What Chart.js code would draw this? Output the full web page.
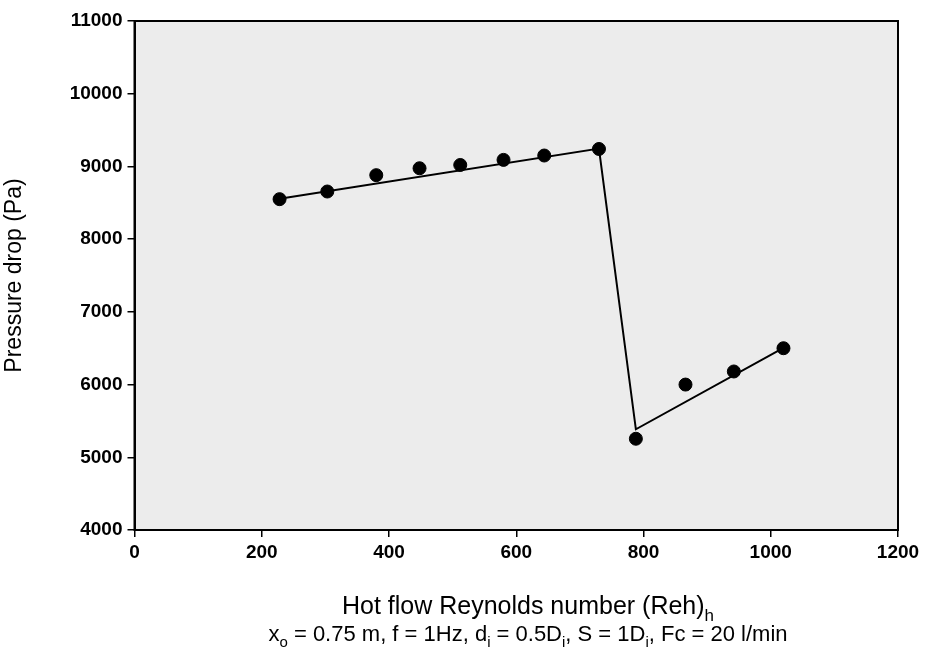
<!DOCTYPE html>
<html>
<head>
<meta charset="utf-8">
<script src="https://cdn.jsdelivr.net/npm/chart.js@4.4.0/dist/chart.umd.min.js"></script>
<style>
  body { margin: 0; background: #fff; }
  #wrap { width: 928px; height: 651px; }
</style>
</head>
<body>
<div id="wrap"><canvas id="myChart" width="928" height="651"></canvas></div>
<script>
// medidos del grafico
var reynolds = [228, 303, 380, 448, 512, 580, 644, 730, 788, 866, 942, 1020];
var presion = [8550, 8655, 8880, 8975, 9020, 9090, 9150, 9240, 5255, 6000, 6180, 6500];

// linea de ajuste (tramos)
var ajusteX = [228, 730, 788, 1020];
var ajusteY = [8555, 9245, 5385, 6505];

var xTicks = [0, 200, 400, 600, 800, 1000, 1200];
var yTicks = [4000, 5000, 6000, 7000, 8000, 9000, 10000, 11000];

var puntos = [];
for (var i = 0; i < reynolds.length; i++) {
    puntos.push({ x: reynolds[i], y: presion[i] });
}
var linea = [];
for (var j = 0; j < ajusteX.length; j++) {
    linea.push({ x: ajusteX[j], y: ajusteY[j] });
}

var fuente = '"Liberation Sans", Arial, sans-serif';

// fondo gris del area y marco
const marco = {
    id: 'marco',
    beforeDraw(chart) {
        var a = chart.chartArea;
        var c = chart.ctx;
        c.save();
        c.fillStyle = '#ececec';
        c.fillRect(a.left, a.top, a.right - a.left, a.bottom - a.top);
        c.restore();
    },
    afterDraw(chart) {
        var a = chart.chartArea;
        var c = chart.ctx;
        c.save();
        c.strokeStyle = '#000';
        c.lineWidth = 2;
        c.strokeRect(a.left, a.top, a.right - a.left, a.bottom - a.top);
        c.restore();
    }
};

// titulo del eje x con subindices
function textoSub(c, partes, cx, y, size) {
    var total = 0;
    partes.forEach(p => {
        c.font = (p[1] ? Math.round(size * 0.68) : size) + 'px ' + fuente;
        total += c.measureText(p[0]).width;
    });
    var x = cx - total / 2;
    partes.forEach(p => {
        c.font = (p[1] ? Math.round(size * 0.68) : size) + 'px ' + fuente;
        c.fillText(p[0], x, p[1] ? y + size * 0.28 : y);
        x += c.measureText(p[0]).width;
    });
}

const tituloX = {
    id: 'tituloX',
    afterDraw(chart) {
        var c = chart.ctx;
        c.save();
        c.fillStyle = '#000';
        c.textBaseline = 'alphabetic';
        textoSub(c, [['Hot flow Reynolds number (Reh)', false], ['h', true]], 528, 614, 25);
        textoSub(c, [
            ['x', false], ['o', true], [' = 0.75 m, f = 1Hz, d', false], ['i', true],
            [' = 0.5D', false], ['i', true], [', S = 1D', false], ['i', true],
            [', Fc = 20 l/min', false]
        ], 528, 641, 22);
        c.restore();
    }
};

const ctx = document.getElementById('myChart').getContext('2d');
const myChart = new Chart(ctx, {
    type: 'scatter',
    data: {
        datasets: [{
            label: 'ajuste',
            data: linea,
            showLine: true,
            borderColor: '#000',
            borderWidth: 2,
            pointRadius: 0,
            fill: false
        }, {
            label: 'datos',
            data: puntos,
            backgroundColor: '#000',
            borderColor: '#000',
            pointRadius: 6.5,
            pointHoverRadius: 6.5
        }]
    },
    options: {
        responsive: false,
        animation: false,
        events: [],
        layout: { padding: { top: 21, right: 30, left: 0, bottom: 0 } },
        plugins: {
            legend: { display: false },
            tooltip: { enabled: false }
        },
        scales: {
            x: {
                type: 'linear',
                min: 0,
                max: 1200,
                afterBuildTicks: s => { s.ticks = xTicks.map(v => ({ value: v })); },
                afterFit: s => { s.height = 121; },
                border: { color: '#000', width: 2 },
                grid: { drawOnChartArea: false, color: '#000', tickLength: 7, lineWidth: 1.5 },
                ticks: {
                    color: '#000',
                    padding: 4,
                    maxRotation: 0,
                    callback: v => String(v),
                    font: { family: fuente, size: 19, weight: 'bold' }
                }
            },
            y: {
                min: 4000,
                max: 11000,
                afterBuildTicks: s => { s.ticks = yTicks.map(v => ({ value: v })); },
                afterFit: s => { s.width = 134.5; },
                border: { color: '#000', width: 2 },
                grid: { drawOnChartArea: false, color: '#000', tickLength: 7, lineWidth: 1.5 },
                ticks: {
                    color: '#000',
                    padding: 5,
                    callback: v => String(v),
                    font: { family: fuente, size: 19, weight: 'bold' }
                },
                title: {
                    display: true,
                    text: 'Pressure drop (Pa)',
                    color: '#000',
                    padding: { top: 1, bottom: 0 },
                    font: { family: fuente, size: 23 }
                }
            }
        }
    },
    plugins: [marco, tituloX]
});
</script>
</body>
</html>
